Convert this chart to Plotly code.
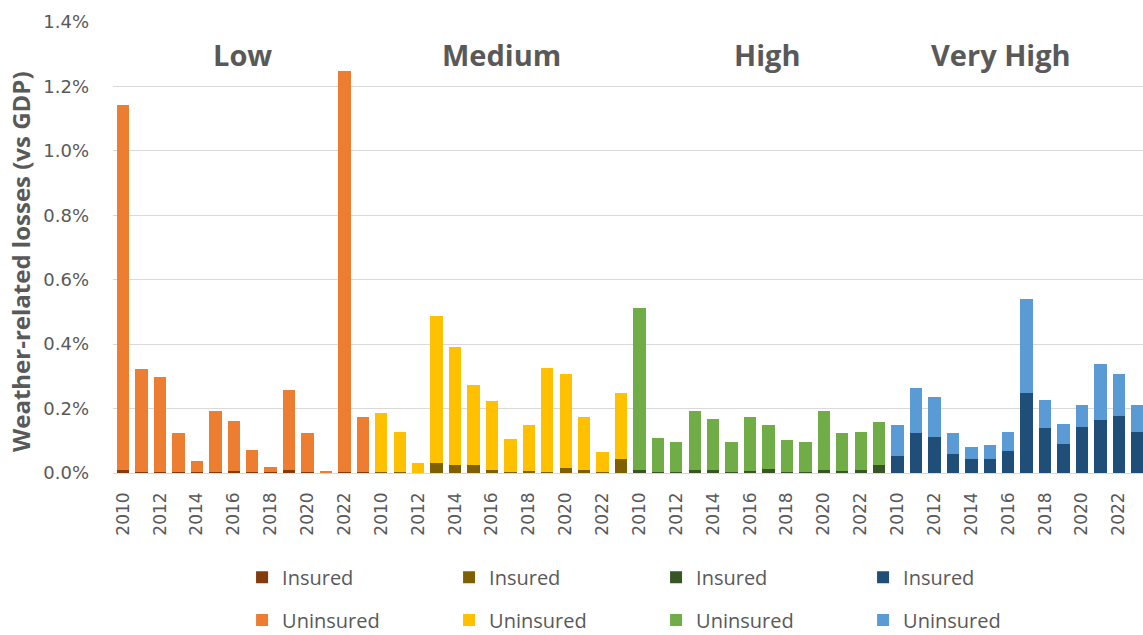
import plotly.graph_objects as go

# Years shown within each income group
years = list(range(2010, 2024))

# Income groups and their colours (insured, uninsured)
groups = ["Low", "Medium", "High", "Very High"]
insured_colors = ["#843C0C", "#7F6000", "#375623", "#1F4E79"]
uninsured_colors = ["#ED7D31", "#FFC000", "#70AD47", "#5B9BD5"]

# Weather-related losses as % of GDP, per year 2010-2023
low_insured = [0.010, 0.002, 0.002, 0.002, 0.002, 0.002, 0.005, 0.002, 0.002, 0.010, 0.002, 0.002, 0.003, 0.002]
low_uninsured = [1.133, 0.320, 0.295, 0.121, 0.036, 0.192, 0.157, 0.069, 0.016, 0.248, 0.121, 0.005, 1.245, 0.171]

medium_insured = [0.002, 0.002, 0.001, 0.030, 0.025, 0.025, 0.009, 0.002, 0.005, 0.003, 0.015, 0.010, 0.002, 0.044]
medium_uninsured = [0.185, 0.126, 0.031, 0.458, 0.367, 0.247, 0.215, 0.103, 0.144, 0.324, 0.292, 0.163, 0.062, 0.203]

high_insured = [0.008, 0.002, 0.002, 0.008, 0.008, 0.004, 0.005, 0.013, 0.002, 0.002, 0.008, 0.005, 0.008, 0.024]
high_uninsured = [0.503, 0.106, 0.095, 0.186, 0.160, 0.093, 0.168, 0.135, 0.100, 0.095, 0.186, 0.118, 0.120, 0.133]

very_high_insured = [0.054, 0.123, 0.113, 0.058, 0.042, 0.042, 0.068, 0.247, 0.139, 0.089, 0.144, 0.165, 0.178, 0.128]
very_high_uninsured = [0.094, 0.140, 0.124, 0.065, 0.040, 0.046, 0.060, 0.294, 0.088, 0.063, 0.067, 0.173, 0.129, 0.083]

insured = [low_insured, medium_insured, high_insured, very_high_insured]
uninsured = [low_uninsured, medium_uninsured, high_uninsured, very_high_uninsured]

TEXT = "#595959"
FONT = "Open Sans"
TICK_FONT = "DejaVu Sans"

fig = go.Figure()
n = len(years)
tickvals, ticktext = [], []
for g in range(len(groups)):
    xs = [g * n + i for i in range(n)]
    tickvals += xs[::2]
    ticktext += [str(y) for y in years[::2]]
    fig.add_trace(go.Bar(x=xs, y=insured[g], name="Insured",
                         marker=dict(color=insured_colors[g], line=dict(width=0)),
                         legend="legend"))
for g in range(len(groups)):
    xs = [g * n + i for i in range(n)]
    fig.add_trace(go.Bar(x=xs, y=uninsured[g], name="Uninsured",
                         marker=dict(color=uninsured_colors[g], line=dict(width=0)),
                         legend="legend2"))

# Group headings above the bars
heading_x = [6.5, 20.5, 34.9, 47.6]
for g, name in enumerate(groups):
    fig.add_annotation(x=heading_x[g], y=1.30, xref="x", yref="y", text=name,
                       showarrow=False, font=dict(family=FONT, size=29, color=TEXT, weight="bold"))

# Y axis title
fig.add_annotation(x=-0.0893, y=0.468, xref="paper", yref="paper",
                   xanchor="center", yanchor="middle",
                   text="Weather-related losses (vs GDP)", textangle=-90, showarrow=False,
                   font=dict(family=FONT, size=24, color=TEXT, weight="bold"))

legend_common = dict(orientation="h", xanchor="left", x=0.1253, yanchor="middle",
                     entrywidth=162, entrywidthmode="pixels", traceorder="normal",
                     font=dict(family=FONT, size=20, color=TEXT), bgcolor="rgba(0,0,0,0)")

fig.update_layout(
    width=1143, height=635,
    margin=dict(l=113, r=0, t=22, b=162, autoexpand=False),
    paper_bgcolor="white", plot_bgcolor="white",
    barmode="stack", bargap=0.33,
    font=dict(family=FONT, color=TEXT),
    xaxis=dict(range=[-0.55, 55.31], tickmode="array", tickvals=tickvals, ticktext=ticktext,
               tickangle=-90, tickfont=dict(family=TICK_FONT, size=17, color=TEXT),
               ticklabelstandoff=15,
               showgrid=False, zeroline=False, showline=False, ticks=""),
    yaxis=dict(range=[0, 1.4], dtick=0.2, tickformat=".1f", ticksuffix="%",
               tickfont=dict(family=TICK_FONT, size=18, color=TEXT), ticks="",
               ticklabelstandoff=23,
               showgrid=True, gridcolor="#D9D9D9", gridwidth=1,
               zeroline=True, zerolinecolor="#D9D9D9", zerolinewidth=1, showline=False),
    legend=dict(**legend_common, y=-0.231),
    legend2=dict(**legend_common, y=-0.326),
)

fig.write_html("out.html")
